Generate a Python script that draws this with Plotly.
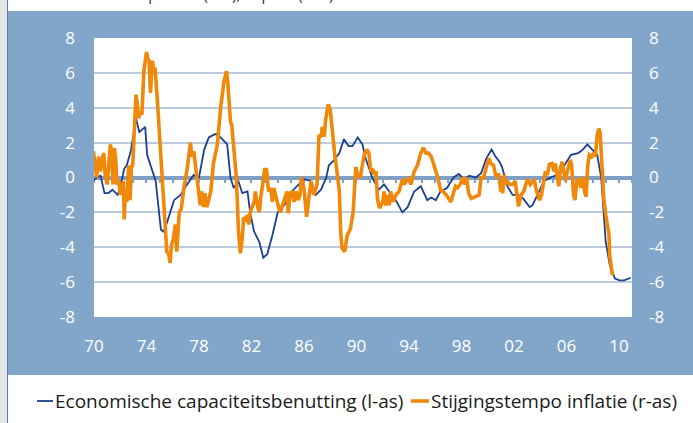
import plotly.graph_objects as go

# ---------------- data ----------------
cap_year = [1969.9, 1970.2, 1970.5, 1970.8, 1971.1, 1971.4, 1971.8, 1972.0, 1972.3, 1972.5,
            1972.8, 1973.0, 1973.2, 1973.45, 1973.7, 1973.9, 1974.05, 1974.4, 1974.7, 1975.1,
            1975.3, 1975.6, 1976.1, 1976.6, 1977.0, 1977.6, 1978.0, 1978.4, 1978.75, 1979.0,
            1979.3, 1979.65, 1980.0, 1980.15, 1980.4, 1980.65, 1981.0, 1981.3, 1981.7, 1981.9,
            1982.2, 1982.6, 1982.9, 1983.2, 1983.6, 1984.0, 1984.35, 1984.7, 1985.2, 1985.6,
            1986.0, 1986.5, 1986.9, 1987.3, 1987.7, 1987.9, 1988.3, 1988.7, 1989.05, 1989.4,
            1989.7, 1990.1, 1990.45, 1990.7, 1991.2, 1991.7, 1992.1, 1992.5, 1993.0, 1993.5,
            1993.9, 1994.4, 1994.9, 1995.4, 1995.7, 1996.05, 1996.4, 1996.9, 1997.4, 1997.8,
            1998.2, 1998.6, 1999.1, 1999.5, 1999.9, 2000.3, 2000.6, 2000.9, 2001.1, 2001.5,
            2001.9, 2002.3, 2002.7, 2003.2, 2003.4, 2003.8, 2004.3, 2004.8, 2005.3, 2005.85,
            2006.35, 2006.9, 2007.25, 2007.6, 2008.0, 2008.35, 2008.65, 2008.85, 2009.0, 2009.3,
            2009.7, 2010.05, 2010.4, 2010.9]
cap_value = [-0.2, 0.0, 0.1, -0.9, -0.9, -0.7, -1.0, -0.6, 0.5, 0.7,
             1.5, 2.5, 3.4, 2.6, 2.8, 2.9, 1.3, 0.5, -0.2, -3.0,
             -3.1, -2.5, -1.3, -1.0, -0.5, 0.15, 0.0, 1.6, 2.3, 2.4,
             2.5, 2.3, 2.0, 1.9, 0.0, -0.6, -0.2, -0.9, -0.8, -2.0,
             -3.1, -3.7, -4.6, -4.4, -3.3, -2.0, -1.7, -1.4, -0.7, -0.4,
             -0.1, -0.2, -1.0, -0.7, 0.0, 0.7, 1.0, 1.4, 2.2, 1.8,
             1.8, 2.3, 1.9, 1.1, 0.0, -0.7, -0.4, -0.8, -1.3, -2.0,
             -1.7, -0.8, -0.5, -1.3, -1.15, -1.3, -0.8, -0.6, 0.0, 0.2,
             -0.1, 0.1, 0.0, 0.25, 1.1, 1.6, 1.2, 0.9, 0.6, -0.5,
             -1.0, -1.0, -1.2, -1.7, -1.6, -1.0, -0.2, 0.0, 0.15, 0.7,
             1.3, 1.4, 1.6, 1.9, 1.6, 1.3, 0.0, -2.0, -3.7, -5.0,
             -5.8, -5.9, -5.9, -5.75]

infl_year = [1969.85, 1969.95, 1970.1, 1970.2, 1970.3, 1970.35, 1970.5, 1970.6, 1970.75, 1970.85,
             1971.0, 1971.1, 1971.25, 1971.35, 1971.45, 1971.55, 1971.65, 1971.75, 1971.9, 1972.0,
             1972.15, 1972.25, 1972.3, 1972.4, 1972.5, 1972.65, 1972.75, 1972.85, 1972.95, 1973.1,
             1973.2, 1973.3, 1973.4, 1973.55, 1973.65, 1973.8, 1974.0, 1974.1, 1974.2, 1974.3,
             1974.45, 1974.55, 1974.65, 1974.8, 1975.05, 1975.2, 1975.3, 1975.45, 1975.55, 1975.7,
             1975.8, 1975.9, 1976.05, 1976.2, 1976.3, 1976.5, 1976.65, 1976.85, 1977.1, 1977.35,
             1977.45, 1977.6, 1977.9, 1978.1, 1978.2, 1978.35, 1978.45, 1978.6, 1978.9, 1979.1,
             1979.4, 1979.65, 1979.9, 1980.1, 1980.2, 1980.4, 1980.5, 1980.65, 1980.85, 1981.0,
             1981.15, 1981.3, 1981.4, 1981.55, 1981.7, 1981.8, 1981.9, 1982.2, 1982.3, 1982.45,
             1982.6, 1982.7, 1983.0, 1983.15, 1983.3, 1983.45, 1983.6, 1983.7, 1983.85, 1984.1,
             1984.2, 1984.5, 1984.7, 1984.8, 1984.95, 1985.1, 1985.25, 1985.4, 1985.55, 1985.7,
             1985.8, 1986.0, 1986.2, 1986.4, 1986.55, 1986.75, 1987.0, 1987.15, 1987.3, 1987.4,
             1987.55, 1987.65, 1987.85, 1988.0, 1988.2, 1988.35, 1988.55, 1988.7, 1988.8, 1988.9,
             1989.1, 1989.3, 1989.45, 1989.55, 1989.75, 1989.95, 1990.1, 1990.3, 1990.45, 1990.6,
             1990.8, 1990.95, 1991.1, 1991.25, 1991.35, 1991.5, 1991.6, 1991.75, 1991.85, 1992.0,
             1992.1, 1992.25, 1992.4, 1992.5, 1992.6, 1992.8, 1993.0, 1993.25, 1993.5, 1993.65,
             1993.8, 1994.0, 1994.15, 1994.3, 1994.4, 1994.65, 1994.9, 1995.1, 1995.3, 1995.5,
             1995.7, 1995.95, 1996.2, 1996.4, 1996.6, 1996.85, 1997.05, 1997.2, 1997.35, 1997.55,
             1997.7, 1997.9, 1998.1, 1998.25, 1998.4, 1998.55, 1998.75, 1999.0, 1999.25, 1999.35,
             1999.5, 1999.7, 1999.9, 2000.1, 2000.25, 2000.45, 2000.6, 2000.85, 2001.0, 2001.05,
             2001.15, 2001.25, 2001.4, 2001.5, 2001.7, 2001.9, 2002.1, 2002.25, 2002.35, 2002.55,
             2002.75, 2002.9, 2003.05, 2003.25, 2003.45, 2003.55, 2003.7, 2003.8, 2003.95, 2004.1,
             2004.25, 2004.4, 2004.55, 2004.7, 2004.9, 2005.05, 2005.15, 2005.3, 2005.42, 2005.55,
             2005.68, 2005.8, 2005.92, 2006.1, 2006.3, 2006.4, 2006.55, 2006.65, 2006.8, 2006.98,
             2007.1, 2007.25, 2007.38, 2007.5, 2007.63, 2007.75, 2007.93, 2008.08, 2008.2, 2008.35,
             2008.47, 2008.57, 2008.7, 2008.85, 2009.0, 2009.12, 2009.25, 2009.3, 2009.42, 2009.5]
infl_value = [1.3, 1.5, 0.7, 0.0, 0.8, 1.2, 0.35, 1.0, 1.4, 0.15,
              -0.4, 0.35, 1.9, 1.3, -0.4, 1.7, 1.1, -0.4, -0.2, -1.0,
              -0.4, -0.2, -2.4, -0.8, -1.4, 0.7, -1.3, 0.6, 0.7, 3.2,
              4.75, 4.2, 3.4, 3.8, 3.6, 6.1, 7.2, 6.8, 6.7, 4.85,
              6.7, 6.2, 6.3, 4.75, 1.5, 0.0, -1.2, -3.5, -4.25, -4.4,
              -4.9, -3.9, -3.5, -2.7, -4.25, -2.0, -1.8, -0.6, 0.5, 2.0,
              1.2, 1.5, -0.4, -1.6, -0.8, -1.7, -0.9, -1.7, -0.8, 0.8,
              1.9, 4.0, 5.5, 6.1, 5.4, 3.2, 3.0, 1.7, 0.0, -2.9,
              -4.35, -3.5, -2.3, -2.4, -2.15, -2.7, -2.0, -1.4, -0.8, -1.6,
              -2.0, -1.2, 0.45, 0.45, -0.8, -0.6, -1.4, -0.6, -1.1, -1.8,
              -2.0, -1.2, -0.8, -2.05, -0.9, -0.8, -1.4, -0.8, -1.3, -1.0,
              0.0, -0.6, -2.25, -1.0, -0.2, -1.0, -0.4, 2.45, 2.3, 2.9,
              2.35, 3.3, 4.2, 3.9, 2.3, 1.3, 0.15, -0.8, -3.1, -4.05,
              -4.25, -3.3, -3.1, -2.9, -2.0, 0.6, 0.15, 0.0, 0.7, 1.3,
              1.6, 1.4, 0.35, 0.5, 0.15, 0.35, -1.2, -1.75, -1.65, -1.4,
              -0.8, -1.6, -1.0, -1.6, -0.8, -1.4, -1.0, -0.8, -0.1, -0.4,
              -0.2, 0.0, -0.4, 0.15, 0.35, 0.7, 1.4, 1.7, 1.4, 1.4,
              1.2, 0.6, 0.0, -0.7, -0.8, -1.0, -1.2, -1.4, -1.0, -0.5,
              -0.6, -0.4, 0.0, -0.4, 0.0, -0.9, -1.2, -1.1, -1.0, -1.0,
              0.0, 0.0, 0.6, 1.1, 0.8, 0.7, 0.15, 0.15, -0.8, -0.4,
              -0.9, 0.15, -0.4, -0.2, -0.4, -0.4, -0.2, -1.0, -1.65, -1.0,
              -0.8, -0.4, -0.1, -0.4, -0.2, -0.1, -0.7, -1.0, -1.3, -1.0,
              -0.2, 0.35, 0.15, 0.75, 0.8, 0.35, 0.8, 0.0, -0.5, 0.55,
              0.9, 0.35, -0.2, 0.45, 1.0, 0.7, -1.0, -1.3, -0.2, -0.1,
              -0.6, 0.0, -0.8, -1.1, 0.7, 1.3, 1.2, 1.4, 1.2, 2.45,
              2.8, 2.6, 0.7, -1.2, -2.15, -2.7, -3.3, -4.45, -5.0, -5.6]

x_tick_years = [1970, 1974, 1978, 1982, 1986, 1990, 1994, 1998, 2002, 2006, 2010]
x_tick_labels = ["70", "74", "78", "82", "86", "90", "94", "98", "02", "06", "10"]
y_ticks = [-8, -6, -4, -2, 0, 2, 4, 6, 8]
y_tick_labels = ["-8", "-6", "-4", "-2", "0", "2", "4", "6", "8"]

series_names = ["Economische capaciteitsbenutting (l-as)", "Stijgingstempo inflatie (r-as)"]
title_text = "% economische capaciteit (l-as), %-punt (r-as)"

# ---------------- style ----------------
W, H = 693, 423
ML, MR, MT, MB = 94, 61, 38, 106
PW, PH = W - ML - MR, H - MT - MB
PANEL = "#82a6c9"
GRID = "#bccbdd"
ZERO = "#7f9fc4"
BLUE = "#1c3f8f"
ORANGE = "#f0880a"
FONT = "Open Sans"
LEG_FONT = 19


def px_x(x):
    return (x - ML) / PW


def px_y(y):
    return (H - MB - y) / PH


fig = go.Figure()
fig.add_trace(go.Scatter(x=cap_year, y=cap_value, name=series_names[0], mode="lines",
                         line=dict(color=BLUE, width=1.8), yaxis="y", showlegend=False))
fig.add_trace(go.Scatter(x=infl_year, y=infl_value, name=series_names[1], mode="lines",
                         line=dict(color=ORANGE, width=3.6), yaxis="y2", showlegend=False))
# helper trace so the zero-anchored tick axis exists
fig.add_trace(go.Scatter(x=[x_tick_years[0]], y=[0], mode="none", xaxis="x2", yaxis="y",
                         showlegend=False, hoverinfo="skip"))

shapes = [
    dict(type="rect", xref="paper", yref="paper", layer="below", line=dict(width=0),
         x0=px_x(8), x1=px_x(W + 5), y0=px_y(375), y1=px_y(11), fillcolor=PANEL),
    dict(type="rect", xref="paper", yref="paper", layer="below", line=dict(width=0),
         x0=0, x1=1, y0=0, y1=1, fillcolor="white"),
    dict(type="rect", xref="paper", yref="paper", layer="below", line=dict(width=0),
         x0=px_x(-5), x1=px_x(7), y0=px_y(H + 5), y1=px_y(-5), fillcolor="#e6e6e6"),
    dict(type="line", xref="paper", yref="paper", layer="below",
         x0=px_x(7.5), x1=px_x(7.5), y0=px_y(H + 5), y1=px_y(-5),
         line=dict(color="#5a7db0", width=1)),
    # legend samples
    dict(type="line", xref="paper", yref="paper", layer="above",
         x0=px_x(37), x1=px_x(53), y0=px_y(401), y1=px_y(401),
         line=dict(color=BLUE, width=1.8)),
    dict(type="line", xref="paper", yref="paper", layer="above",
         x0=px_x(411), x1=px_x(429), y0=px_y(401), y1=px_y(401),
         line=dict(color=ORANGE, width=3.6)),
]

annotations = [
    dict(text=title_text, xref="paper", yref="paper", x=px_x(18), y=px_y(6),
         xanchor="left", yanchor="bottom", showarrow=False,
         font=dict(family=FONT, size=15, color="#333333")),
    dict(text=series_names[0], xref="paper", yref="paper", x=px_x(53), y=px_y(401),
         xanchor="left", yanchor="middle", showarrow=False,
         font=dict(family=FONT, size=LEG_FONT, color="#1a1a1a")),
    dict(text=series_names[1], xref="paper", yref="paper", x=px_x(429), y=px_y(401),
         xanchor="left", yanchor="middle", showarrow=False,
         font=dict(family=FONT, size=LEG_FONT, color="#1a1a1a")),
]

fig.update_layout(
    width=W, height=H,
    margin=dict(l=ML, r=MR, t=MT, b=MB, pad=0, autoexpand=False),
    paper_bgcolor="white", plot_bgcolor="white",
    font=dict(family=FONT, color="white", size=17),
    shapes=shapes,
    annotations=annotations,
    showlegend=False,
    xaxis=dict(range=[1970, 2011], tickvals=x_tick_years, ticktext=x_tick_labels,
               showgrid=False, zeroline=False, showline=False, ticks="",
               ticklabelstandoff=17, tickfont=dict(color="white", size=17)),
    xaxis2=dict(range=[1970, 2011], overlaying="x", anchor="free", position=0.5,
                showline=False, showgrid=False, zeroline=False, showticklabels=False,
                ticks="outside", ticklen=4, tickwidth=2, tickcolor=ZERO,
                tick0=1970, dtick=1, layer="below traces"),
    yaxis=dict(range=[-8, 8], tickvals=y_ticks, ticktext=y_tick_labels,
               showgrid=True, gridcolor=GRID, gridwidth=1.6,
               zeroline=True, zerolinecolor=ZERO, zerolinewidth=3.5, showline=False, ticks="",
               ticklabelstandoff=18, tickfont=dict(color="white", size=17)),
    yaxis2=dict(range=[-8, 8], tickvals=y_ticks, ticktext=y_tick_labels,
                overlaying="y", side="right",
                showgrid=False, zeroline=False, showline=False, ticks="",
                ticklabelstandoff=16, tickfont=dict(color="white", size=17)),
)

fig.write_html("out.html", config={"displayModeBar": False},
               post_script="document.body.style.margin='0px';")
